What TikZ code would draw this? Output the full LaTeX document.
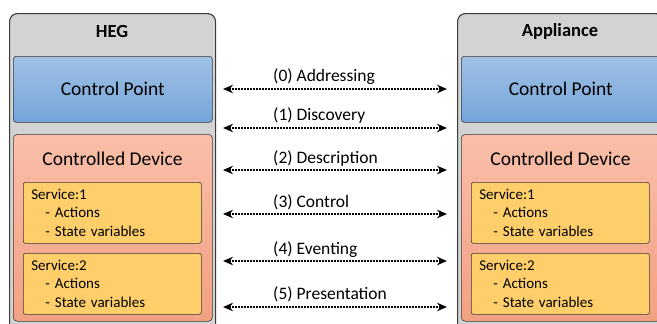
\documentclass[tikz,border=0pt]{standalone}
\usepackage{fontspec}
\setmainfont{Carlito}
\usetikzlibrary{positioning,arrows.meta}

\definecolor{boxgray}{HTML}{D3D3D3}
\definecolor{cptop}{HTML}{A0C1E5}
\definecolor{cpbot}{HTML}{74A5D8}
\definecolor{cdtop}{HTML}{F9BFA9}
\definecolor{cdbot}{HTML}{F3A082}
\definecolor{svcfill}{HTML}{FDCE6A}
\definecolor{edgegray}{HTML}{3A3A3A}

\tikzset{
	outerbox/.style={draw=edgegray, line width=1.1pt, fill=boxgray, rounded corners=8pt,
		minimum width=206pt, minimum height=321pt, anchor=north west, inner sep=0pt},
	cpbox/.style={draw=edgegray, line width=0.6pt, top color=cptop, bottom color=cpbot,
		rounded corners=3pt, minimum width=199pt, minimum height=66pt, anchor=north west,
		inner sep=0pt, font=\fontsize{19.5}{22}\selectfont},
	cdbox/.style={draw=edgegray, line width=0.6pt, top color=cdtop, bottom color=cdbot,
		rounded corners=4pt, minimum width=199pt, minimum height=187pt, anchor=north west,
		inner sep=0pt},
	svcbox/.style={draw=edgegray, line width=0.6pt, fill=svcfill, rounded corners=2pt,
		minimum width=178pt, minimum height=61pt, anchor=north west, inner xsep=8pt,
		inner ysep=0pt, text width=162pt, align=left, font=\fontsize{15}{18.5}\selectfont},
	title/.style={font=\fontsize{18.5}{22}\selectfont\bfseries},
	cdtitle/.style={font=\fontsize{19.5}{22}\selectfont},
	msg/.style={dash pattern=on 1.4pt off 1.6pt, line width=1.4pt,
		{Stealth[length=10pt,width=8.5pt]}-{Stealth[length=10pt,width=8.5pt]}},
	msglabel/.style={anchor=west, inner sep=0pt, font=\fontsize{17.5}{20}\selectfont}
}

\newcommand{\svctext}[1]{Service:#1\\\hspace*{14pt}- Actions\\\hspace*{14pt}- State variables}

\begin{document}
\begin{tikzpicture}[x=1pt, y=-1pt]
	\clip (0,0) rectangle (657,324);
	\useasboundingbox (0,0) rectangle (657,324);
	
	% HEG side
	\node[outerbox] (heg) at (9,13) {};
	\node[title] (hegt) at (112,31) {HEG};
	\node[cpbox] (hegcp) at (13,56) {Control Point};
	\node[cdbox] (hegcd) at (13,134) {};
	\node[cdtitle] (hegcdt) at (112.5,158.5) {Controlled Device};
	\node[svcbox] (hegs1) at (23,182) {\svctext{1}};
	\node[svcbox] (hegs2) at (23,253) {\svctext{2}};
	
	% Appliance side
	\node[outerbox] (app) at (457,13) {};
	\node[title] (appt) at (560,31) {Appliance};
	\node[cpbox] (appcp) at (461,56) {Control Point};
	\node[cdbox] (appcd) at (461,134) {};
	\node[cdtitle] (appcdt) at (560.5,158.5) {Controlled Device};
	\node[svcbox] (apps1) at (471,182) {\svctext{1}};
	\node[svcbox] (apps2) at (471,253) {\svctext{2}};
	
	% messages
	\coordinate (l0) at (223,89);  \coordinate (r0) at (447,89);
	\coordinate (l1) at (223,128); \coordinate (r1) at (447,128);
	\coordinate (l2) at (223,170); \coordinate (r2) at (447,170);
	\coordinate (l3) at (223,214); \coordinate (r3) at (447,214);
	\coordinate (l4) at (223,261); \coordinate (r4) at (447,261);
	\coordinate (l5) at (223,307); \coordinate (r5) at (447,307);
	
	\draw[msg] (l0) -- (r0);
	\draw[msg] (l1) -- (r1);
	\draw[msg] (l2) -- (r2);
	\draw[msg] (l3) -- (r3);
	\draw[msg] (l4) -- (r4);
	\draw[msg] (l5) -- (r5);
	
	\node[msglabel] (m0) at (273,76.5)  {(0) Addressing};
	\node[msglabel] (m1) at (273,115.5) {(1) Discovery};
	\node[msglabel] (m2) at (273,158.5) {(2) Description};
	\node[msglabel] (m3) at (273,202.5) {(3) Control};
	\node[msglabel] (m4) at (273,249.5) {(4) Eventing};
	\node[msglabel] (m5) at (273,294.5) {(5) Presentation};
\end{tikzpicture}
\end{document}
